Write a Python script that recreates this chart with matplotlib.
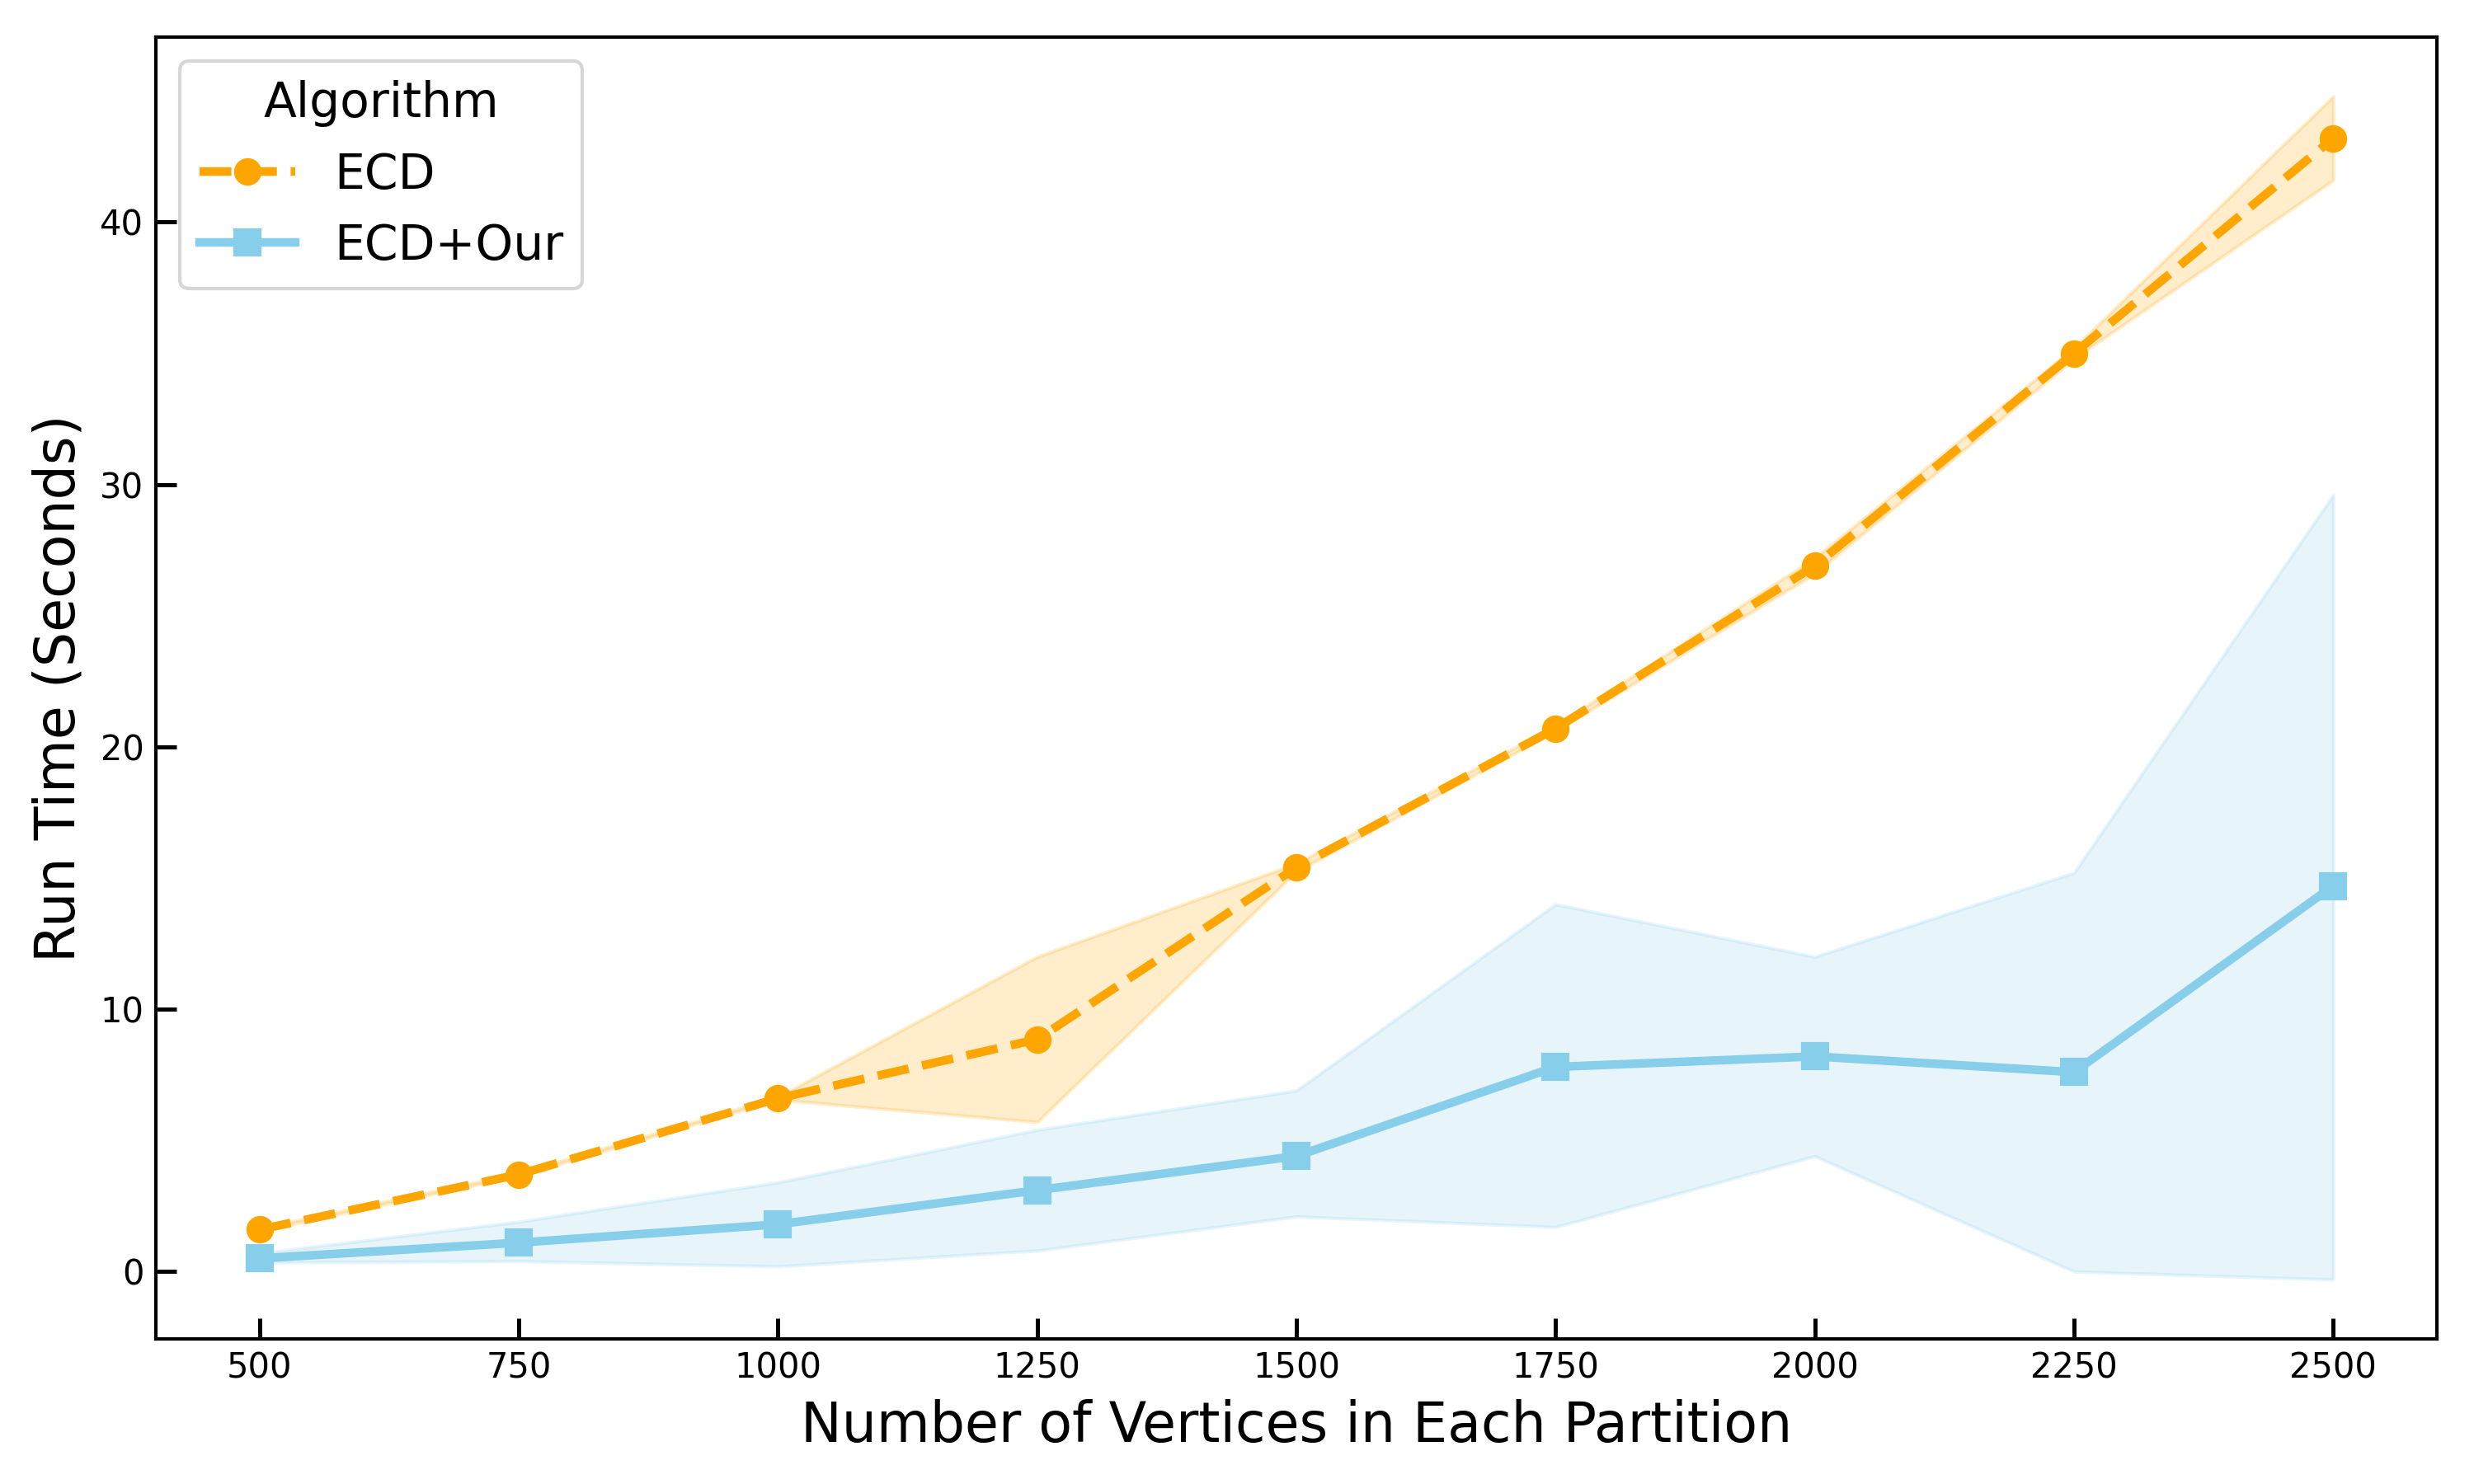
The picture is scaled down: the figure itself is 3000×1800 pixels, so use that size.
import numpy as np
import matplotlib.pyplot as plt

# Data
vertices = [500, 750, 1000, 1250, 1500, 1750, 2000, 2250, 2500]

ecd_mean = [1.6, 3.7, 6.6, 8.85, 15.4, 20.7, 26.9, 35.0, 43.2]
ecd_low = [1.55, 3.65, 6.55, 5.7, 15.25, 20.6, 26.6, 34.8, 41.6]
ecd_high = [1.65, 3.75, 6.65, 12.0, 15.55, 20.8, 27.2, 35.2, 44.8]

our_mean = [0.5, 1.1, 1.8, 3.1, 4.4, 7.8, 8.2, 7.6, 14.7]
our_low = [0.35, 0.4, 0.2, 0.8, 2.1, 1.7, 4.4, 0.0, -0.3]
our_high = [0.7, 1.9, 3.4, 5.4, 6.9, 14.0, 12.0, 15.2, 29.6]

fig, ax = plt.subplots(figsize=(10, 6), dpi=300)
fig.subplots_adjust(left=0.063, right=0.985, top=0.975, bottom=0.098)

ax.plot(vertices, ecd_mean, color='orange', linestyle='--', marker='o',
        linewidth=2.5, markersize=7, label='ECD')
ax.fill_between(vertices, ecd_low, ecd_high, color='orange', alpha=0.2, linewidth=1)

ax.plot(vertices, our_mean, color='skyblue', linestyle='-', marker='s',
        linewidth=2.5, markersize=7, label='ECD+Our')
ax.fill_between(vertices, our_low, our_high, color='skyblue', alpha=0.2, linewidth=1)

ax.set_xticks(vertices)
ax.set_xlabel('Number of Vertices in Each Partition', fontsize=16)
ax.set_ylabel('Run Time (Seconds)', fontsize=16)
ax.tick_params(direction='in', length=6, width=1.2, labelsize=10)
for s in ax.spines.values():
    s.set_linewidth(1.0)

ax.legend(title='Algorithm', fontsize=14, title_fontsize=14, loc='upper left')

plt.savefig('out.png', dpi=300)
